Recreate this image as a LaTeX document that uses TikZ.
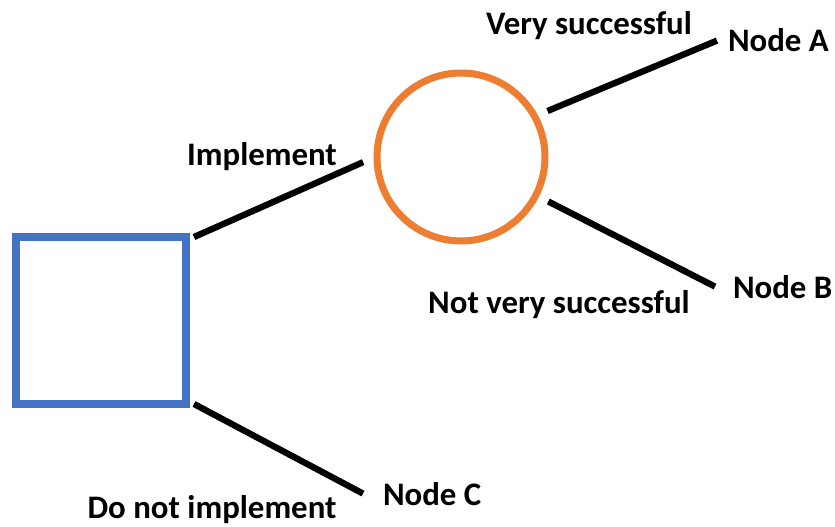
\documentclass[tikz,border=0pt]{standalone}
\usepackage{xcolor}
\usepackage{fontspec}
\setmainfont{Carlito}
\usepackage{tikz}
\usetikzlibrary{shapes.geometric}

\definecolor{decblue}{HTML}{4472C4}
\definecolor{chanceorange}{HTML}{ED7D31}

\begin{document}
\begin{tikzpicture}[x=0.02cm, y=-0.02cm,
    txt/.style={font=\fontsize{18.7}{21}\selectfont\bfseries, inner sep=0pt},
    leaf/.style={txt, anchor=base west, outer sep=0pt},
    branch/.style={line width=3.6pt}]
    \useasboundingbox (0,0) rectangle (835,527);

    \node[draw=decblue, line width=4.2pt, minimum width=3.4cm, minimum
    height=3.34cm, outer sep=0pt] (dec) at (101,320.5) {};
    \node[draw=chanceorange, line width=4pt, circle, minimum size=3.36cm,
    outer sep=0.28cm] (chance) at (461,157) {};

    \node[leaf] (nodeA) at (728,52) {Node A};
    \node[leaf] (nodeB) at (733,298) {Node B};
    \node[leaf] (nodeC) at (383,505) {Node C};

    \draw[branch] ([xshift=0.16cm]dec.north east) -- (chance.183);
    \draw[branch] (chance.28) -- ([xshift=-0.22cm]nodeA.west);
    \draw[branch] (chance.333) -- ([xshift=-0.36cm]nodeB.west);
    \draw[branch] ([xshift=0.16cm]dec.south east) -- ([xshift=-0.4cm]nodeC.west);

    \node[txt, anchor=base] (impl) at (262,165) {Implement};
    \node[txt, anchor=base] (vsucc) at (589,35) {Very successful};
    \node[txt, anchor=base] (nvsucc) at (559,313) {Not very successful};
    \node[txt, anchor=base] (noimpl) at (212,518) {Do not implement};
\end{tikzpicture}
\end{document}
